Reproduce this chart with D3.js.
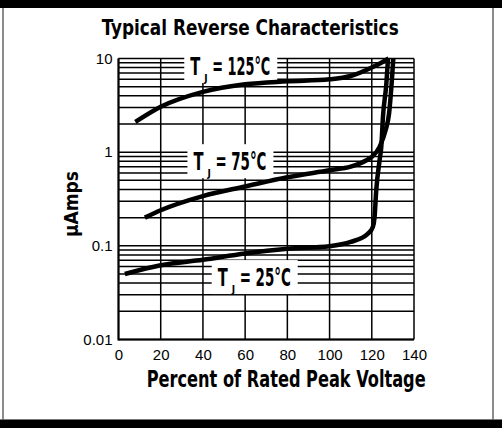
<!DOCTYPE html>
<html><head><meta charset="utf-8">
<script src="https://cdn.jsdelivr.net/npm/d3@7"></script>
<style>
html,body{margin:0;padding:0;background:#000;overflow:hidden;}
svg{display:block;}
.cond{font-family:"Liberation Sans Narrow","DejaVu Sans Condensed","Roboto Condensed","Liberation Sans",sans-serif;font-stretch:condensed;font-weight:bold;}
.tick text{font-family:"Liberation Sans",Arial,sans-serif;}
</style>
</head><body>
<script>
// ---- data ----
const xTicks = [0, 20, 40, 60, 80, 100, 120, 140];
const yTicks = [0.01, 0.1, 1, 10];
const yTickLabels = ["0.01", "0.1", "1", "10"];

const x125 = [8, 20, 40, 60, 80, 100, 110, 120, 124.5, 128];
const y125 = [2.1, 3.05, 4.4, 5.3, 5.7, 6.0, 6.5, 8.0, 9.0, 10];

const x75 = [12.5, 20, 40, 60, 80, 100, 110, 117.5, 120, 123.7, 126.5, 128.2, 129.3, 130.2];
const y75 = [0.20, 0.24, 0.34, 0.43, 0.54, 0.64, 0.70, 0.82, 0.89, 1.14, 1.7, 2.6, 5.0, 10];

const x25 = [3, 20, 40, 60, 80, 100, 110, 118.2, 120.5, 121.3, 122.1, 123.7, 124.5, 125.3, 126.9, 127.7];
const y25 = [0.050, 0.062, 0.071, 0.083, 0.093, 0.099, 0.11, 0.135, 0.159, 0.20, 0.39, 0.82, 1.14, 2.39, 5.4, 10];

const seriesLabels = ["125°C", "75°C", "25°C"];
// label anchors (percent, µA): left of text / baseline
const labelX = [34.0, 35.5, 47.0];
const labelY = [6.66, 0.642, 0.0372];

// ---- layout ----
const W = 502, H = 428;
const svg = d3.select("body").append("svg").attr("width", W).attr("height", H);

// frame / borders
svg.append("rect").attr("x",0).attr("y",0).attr("width",W).attr("height",H).style("fill","#000");
svg.append("rect").attr("x",0).attr("y",8).attr("width",W).attr("height",411).style("fill","#fff");
svg.append("line").attr("x1",0).attr("x2",W).attr("y1",419.5).attr("y2",419.5).style("stroke","#777").attr("stroke-width",1);
svg.append("line").attr("x1",3).attr("x2",3).attr("y1",8).attr("y2",420).style("stroke","#666").attr("stroke-width",1.5);
svg.append("line").attr("x1",493).attr("x2",493).attr("y1",8).attr("y2",420).style("stroke","#666").attr("stroke-width",1.5);

const x = d3.scaleLinear().domain([0, 140]).range([118.5, 414]);
const y = d3.scaleLog().domain([0.01, 10]).range([339.5, 58.5]);

// grid
const g = svg.append("g");
const minor = [];
for (let e = -2; e <= 0; e++) for (let m = 1; m <= 9; m++) minor.push(m * Math.pow(10, e));
minor.push(10);
g.selectAll("line.h").data(minor).enter().append("line")
  .attr("x1", x(0)).attr("x2", x(140))
  .attr("y1", d => y(d)).attr("y2", d => y(d))
  .attr("stroke", "#000").attr("stroke-width", 1.5);
g.selectAll("line.v").data(xTicks).enter().append("line")
  .attr("x1", d => x(d)).attr("x2", d => x(d))
  .attr("y1", y(0.01)).attr("y2", y(10))
  .attr("stroke", "#000").attr("stroke-width", 1.5);
g.append("line").attr("x1",x(0)).attr("x2",x(0)).attr("y1",y(0.01)+1).attr("y2",y(10)).attr("stroke","#000").attr("stroke-width",2);
g.append("line").attr("x1",x(0)).attr("x2",x(140)).attr("y1",y(0.01)).attr("y2",y(0.01)).attr("stroke","#000").attr("stroke-width",2);

// label boxes
const boxes = svg.append("g");
seriesLabels.forEach((lab, i) => {
  const lx = x(labelX[i]), by = y(labelY[i]);
  const tw = i === 0 ? 80 : 73;
  boxes.append("rect")
    .attr("x", lx - 6).attr("y", by - 26)
    .attr("width", tw + 13).attr("height", 34)
    .attr("fill", "#fff");
  boxes.append("text").attr("class","cond")
    .attr("x", lx).attr("y", by).attr("font-size", 24)
    .attr("textLength", 10).attr("lengthAdjust","spacingAndGlyphs").text("T");
  boxes.append("text").attr("class","cond")
    .attr("x", lx + 14).attr("y", by + 7).attr("font-size", 10)
    .text("J");
  boxes.append("text").attr("class","cond")
    .attr("x", lx + 22).attr("y", by).attr("font-size", 24)
    .attr("textLength", tw - 22).attr("lengthAdjust","spacingAndGlyphs")
    .text("= " + lab);
});

// curves
const line = d3.line().x(d => x(d[0])).y(d => y(d[1])).curve(d3.curveMonotoneX);
[[x125,y125],[x75,y75],[x25,y25]].forEach(([xs, ys]) => {
  svg.append("path").datum(xs.map((v,i) => [v, ys[i]]))
    .attr("d", line).attr("fill","none").attr("stroke","#000")
    .attr("stroke-width", 4.5).attr("stroke-linecap","butt").attr("stroke-linejoin","round");
});

// axes (labels only)
const xAxis = svg.append("g").attr("transform", `translate(0,${y(0.01)})`)
  .call(d3.axisBottom(x).tickValues(xTicks).tickSize(0).tickPadding(10).tickFormat(d3.format("d")));
xAxis.select(".domain").remove();
xAxis.selectAll("text").attr("font-size", 15).attr("fill","#000");

const yAxis = svg.append("g").attr("transform", `translate(${x(0)},0)`)
  .call(d3.axisLeft(y).tickValues(yTicks).tickSize(0).tickPadding(6).tickFormat((d,i) => yTickLabels[i]));
yAxis.select(".domain").remove();
yAxis.selectAll("text").attr("font-size", 15).attr("fill","#000");

// titles
svg.append("text").attr("class","cond").attr("x", 101.7).attr("y", 35)
  .attr("font-size", 22).attr("textLength", 297).attr("lengthAdjust","spacingAndGlyphs")
  .text("Typical Reverse Characteristics");
svg.append("text").attr("class","cond").attr("x", 146.7).attr("y", 387)
  .attr("font-size", 23).attr("textLength", 279).attr("lengthAdjust","spacingAndGlyphs")
  .text("Percent of Rated Peak Voltage");
svg.append("text").attr("class","cond")
  .attr("transform", "translate(78,237) rotate(-90)")
  .attr("font-size", 20).attr("textLength", 66).attr("lengthAdjust","spacingAndGlyphs")
  .text("µAmps");
</script>
</body></html>
